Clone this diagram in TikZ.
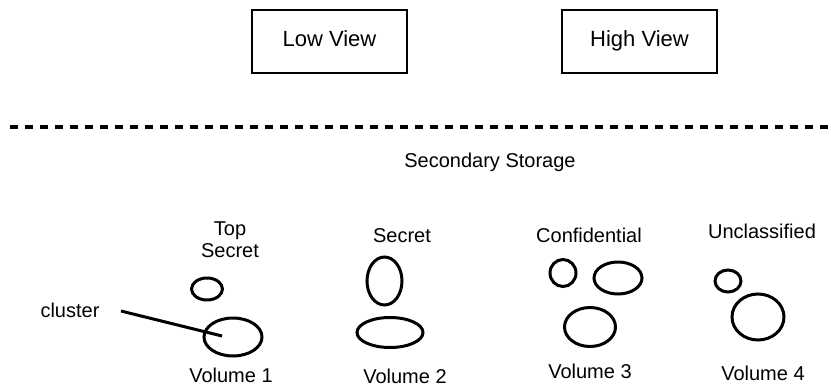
\documentclass[tikz,border=0pt]{standalone}
\usepackage{fontspec}
\setmainfont{Liberation Sans}
\begin{document}
\begin{tikzpicture}[x=0.5pt,y=-0.5pt,line width=1.5pt,font=\fontsize{10}{11}\selectfont,
	view/.style={draw,line width=1pt,minimum width=77.5pt,minimum height=31.5pt,text height=0.75em,text depth=0.25em,font=\fontsize{11}{12}\selectfont},
	lbl/.style={anchor=base,inner sep=0pt,align=center}]
	\useasboundingbox (0,0) rectangle (831,386);
	\node[view] (low) at (329.5,41.5) {Low View};
	\node[view] (high) at (639.5,41.5) {High View};
	\draw[line width=1.8pt,dash pattern=on 4pt off 3.5pt] (10,127) -- (829,127);
	\node[lbl] (storage) at (490,167) {Secondary Storage};
	\node[lbl] (topsecret) at (230,257) {Top\\Secret};
	\node[lbl] (secret) at (402,242) {Secret};
	\node[lbl] (confidential) at (589,242) {Confidential};
	\node[lbl] (unclassified) at (762,238) {Unclassified};
	\draw (207,289) ellipse[x radius=15.5,y radius=11];
	\draw (233,337) ellipse[x radius=29,y radius=19];
	\draw (384.5,281) ellipse[x radius=17.5,y radius=24];
	\draw (390,332.5) ellipse[x radius=33,y radius=15];
	\draw (563,273) ellipse[x radius=13,y radius=13.5];
	\draw (618,278) ellipse[x radius=24,y radius=16];
	\draw (590,327) ellipse[x radius=25.5,y radius=19.5];
	\draw (728,281) ellipse[x radius=13,y radius=11];
	\draw (758,317) ellipse[x radius=26,y radius=23];
	\node[lbl] (vol1) at (231,382) {Volume 1};
	\node[lbl] (vol2) at (405,383) {Volume 2};
	\node[lbl] (vol3) at (590,378) {Volume 3};
	\node[lbl] (vol4) at (763,380) {Volume 4};
	\node[lbl] (cluster) at (70,317) {cluster};
	\coordinate (clusterpt) at (222,336);
	\draw ([xshift=10pt,yshift=3pt]cluster.base east) -- (clusterpt);
\end{tikzpicture}
\end{document}
